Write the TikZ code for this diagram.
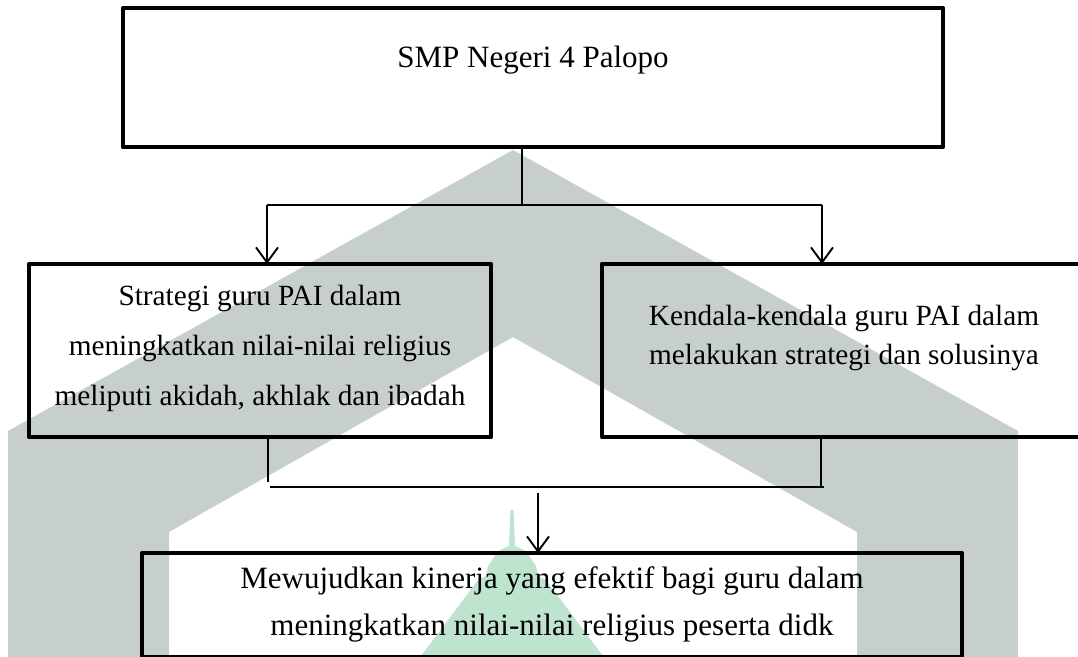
\documentclass[tikz,border=0pt]{standalone}
\usepackage{fontspec}
\setmainfont{Liberation Serif}
\usetikzlibrary{arrows.meta}
\definecolor{wmgray}{RGB}{198,207,203}
\definecolor{wmgreen}{RGB}{190,227,207}
\begin{document}
\begin{tikzpicture}[x=1pt,y=-1pt,
  boxstyle/.style={draw, line width=4.5pt, line join=round, inner sep=0pt, outer sep=0pt},
  conn/.style={line width=1.9pt},
  arr/.style={conn, -{Straight Barb[length=15pt,width=22pt]}},
  txt/.style={inner sep=0pt, anchor=base},
  sidefont/.style={font=\fontsize{29.3}{35}\selectfont},
  bigfont/.style={font=\fontsize{31}{37}\selectfont},
]
\useasboundingbox (0,0) rectangle (1078,656);
\clip (0,0) rectangle (1078,656);
% watermark
\fill[wmgray] (8,660) -- (8,431) -- (513,150) -- (1018,431) -- (1018,660) -- (857,660)
  -- (857,532) -- (513,337) -- (169,532) -- (169,660) -- cycle;
\fill[wmgreen] (510.5,510) -- (509,546) -- (500,550) -- (494,557) -- (488,566) -- (486,576)
  -- (478,580) -- (418,660) -- (606,660) -- (546,580) -- (538,576) -- (536,566)
  -- (530,557) -- (524,550) -- (515,546) -- (513.5,510) -- cycle;
% boxes
\node[boxstyle, minimum width=820pt, minimum height=139pt] (top) at (533,77.5) {};
\node[boxstyle, minimum width=462pt, minimum height=173pt] (left) at (260,350.5) {};
\node[boxstyle, minimum width=484pt, minimum height=173pt] (right) at (844,350.5) {};
\node[boxstyle, minimum width=820pt, minimum height=104pt] (bottom) at (552,605) {};
% texts
\node[txt, bigfont] (ttop) at (533,67) {SMP Negeri 4 Palopo};
\node[txt, sidefont] (tl1) at (260,305) {Strategi guru PAI dalam};
\node[txt, sidefont] (tl2) at (260,355) {meningkatkan nilai-nilai religius};
\node[txt, sidefont] (tl3) at (260,405) {meliputi akidah, akhlak dan ibadah};
\node[txt, sidefont] (tr1) at (844,325) {Kendala-kendala guru PAI dalam};
\node[txt, sidefont] (tr2) at (844,364) {melakukan strategi dan solusinya};
\node[txt, bigfont] (tb1) at (552,588) {Mewujudkan kinerja yang efektif bagi guru dalam};
\node[txt, bigfont] (tb2) at (552,635) {meningkatkan nilai-nilai religius peserta didk};
% connectors
\coordinate (j1) at (522,205);
\coordinate (jl) at (267,205);
\coordinate (jr) at (822,205);
\draw[conn] (top.south -| j1) -- (j1);
\draw[conn] (jl) -- (jr);
\draw[arr] (jl) -- (left.north -| jl);
\draw[arr] (jr) -- (right.north -| jr);
\coordinate (kl) at (268,482);
\coordinate (hl) at (270,487);
\coordinate (hr) at (824,487);
\coordinate (kr) at (821,487);
\draw[conn] (left.south -| kl) -- (kl);
\draw[conn] (hl) -- (hr);
\draw[conn] (right.south -| kr) -- (kr);
\coordinate (ja) at (538,493);
\draw[arr] (ja) -- (bottom.north -| ja);
\end{tikzpicture}
\end{document}
